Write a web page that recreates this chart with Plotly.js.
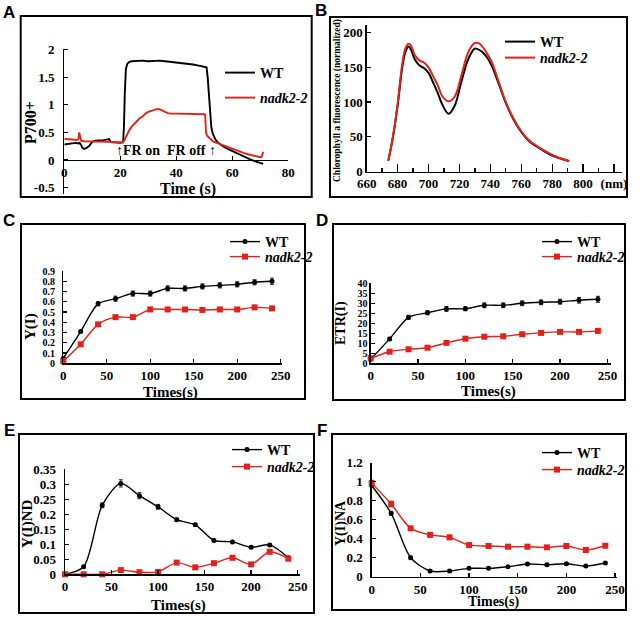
<!DOCTYPE html>
<html><head><meta charset="utf-8">
<script src="https://cdn.plot.ly/plotly-3.0.1.min.js"></script>
<style>html,body{margin:0;padding:0;background:#fff}</style>
</head><body><div id="chart" style="width:640px;height:620px"></div>
<script>
// ---------- Panel A : P700+ kinetics ----------
const aTimeWT = [0,1,2,3,4,5,5.5,6,6.5,7,8,9,10,11,12,13,14,15,16,16.5,17,18,19,20,21,21.3,21.6,22,22.5,23,24,26,28,30,32,34,36,38,40,42,44,46,48,50,50.8,51.2,51.6,52,52.5,53,54,55,56,58,60,62,64,66,68,70,71];
const aP700WT = [0.28,0.29,0.30,0.30,0.31,0.30,0.31,0.27,0.22,0.20,0.22,0.26,0.33,0.35,0.35,0.36,0.36,0.37,0.38,0.33,0.32,0.32,0.31,0.31,0.32,0.6,1.2,1.65,1.74,1.77,1.79,1.80,1.80,1.79,1.80,1.80,1.79,1.78,1.77,1.76,1.74,1.73,1.71,1.69,1.68,1.5,1.2,0.85,0.6,0.48,0.37,0.31,0.27,0.21,0.16,0.11,0.06,0.02,-0.02,-0.05,-0.07];
const aTimeNadk = [0,1,2,3,4,5,5.3,5.6,6,7,8,10,12,14,16,18,20,21,21.5,22,23,24,25,26,27,28,29,30,31,32,33,34,35,36,37,38,40,42,44,46,48,50,50.3,50.6,51,52,53,54,56,58,60,62,64,66,68,70,70.5,71];
const aP700Nadk = [0.38,0.38,0.37,0.37,0.36,0.37,0.50,0.40,0.35,0.34,0.34,0.34,0.33,0.33,0.33,0.32,0.32,0.32,0.36,0.42,0.52,0.60,0.66,0.72,0.76,0.79,0.84,0.87,0.89,0.90,0.92,0.92,0.89,0.87,0.85,0.84,0.84,0.84,0.83,0.84,0.83,0.83,0.82,0.50,0.44,0.38,0.34,0.32,0.28,0.24,0.20,0.16,0.13,0.10,0.07,0.05,0.06,0.15];
const aXTicks = [0,20,40,60,80];
const aYTicks = [-0.5,0,0.5,1,1.5,2];
const aYTickText = ['-0.5','0','0.5','1','1.5','2'];

// ---------- Panel B : 77K chlorophyll a fluorescence ----------
const bWavelength = [674,677,680,683,685,687,689,691,694,697,700,703,706,709,713,717,721,725,728,730,733,737,741,745,750,755,760,765,770,775,780,785,791];
const bFluoWT   = [16,50,95,150,172,180,174,162,153,149,142,128,113,96,83,95,127,158,172,177,175,167,152,129,99,75,57,44,36,29,23,19,15];
const bFluoNadk = [15,50,97,155,177,184,180,168,160,157,150,137,124,108,101,108,136,168,181,185,184,173,157,132,100,76,58,45,37,30,24,19,15];
const bXTicks = [660,680,700,720,740,760,780,800,820];
const bXTickText = ['660','680','700','720','740','760','780','800','(nm)'];
const bXMinor = [670,690,710,730,750,770,790,810];
const bYTicks = [0,50,100,150,200];

// ---------- Panels C-F : time courses ----------
const times = [0,20,40,60,80,100,120,140,160,180,200,220,240];
const timeTicks = [0,50,100,150,200,250];

const cYI_WT   = [0.05,0.31,0.58,0.63,0.68,0.68,0.73,0.73,0.75,0.76,0.77,0.79,0.80];
const cYI_Nadk = [0.02,0.185,0.38,0.45,0.45,0.525,0.525,0.525,0.52,0.525,0.525,0.545,0.535];
const cErrWT   = [0.01,0.01,0.02,0.025,0.025,0.025,0.025,0.025,0.025,0.025,0.025,0.025,0.03];
const cErrNadk = [0.01,0.01,0.015,0.015,0.015,0.02,0.015,0.015,0.015,0.015,0.015,0.02,0.02];
const cYTicks = [0,0.1,0.2,0.3,0.4,0.5,0.6,0.7,0.8,0.9];
const cYTickText = ['0','0.1','0.2','0.3','0.4','0.5','0.6','0.7','0.8','0.9'];

const dETR_WT   = [2.0,12.2,23.0,25.3,27.2,27.3,29.0,29.0,30.0,30.5,30.8,31.5,32.0];
const dETR_Nadk = [2.5,5.8,7.0,7.8,10.2,12.3,13.3,13.5,14.5,15.2,15.7,15.7,16.2];
const dErrWT    = [0.5,0.8,1.0,1.0,1.2,1.0,1.2,1.2,1.2,1.2,1.2,1.4,1.5];
const dErrNadk  = [0.5,0.5,0.5,0.5,0.6,0.6,0.6,0.6,0.6,0.6,0.6,0.6,0.6];
const dYTicks = [0,5,10,15,20,25,30,35,40];

const eND_WT   = [0.0,0.025,0.23,0.303,0.262,0.225,0.182,0.165,0.113,0.108,0.09,0.098,0.055];
const eND_Nadk = [0.0,0.0,0.0,0.014,0.007,0.008,0.039,0.023,0.037,0.055,0.033,0.075,0.052];
const eErrWT   = [0.002,0.003,0.008,0.012,0.01,0.008,0.006,0.005,0.004,0.003,0.004,0.004,0.004];
const eErrNadk = [0.002,0.002,0.002,0.002,0.002,0.002,0.003,0.002,0.002,0.003,0.002,0.003,0.003];
const eYTicks = [0,0.05,0.1,0.15,0.2,0.25,0.3,0.35];
const eYTickText = ['0','0.05','0.1','0.15','0.2','0.25','0.3','0.35'];

const fNA_WT   = [0.96,0.667,0.2,0.06,0.06,0.088,0.088,0.105,0.133,0.126,0.137,0.112,0.144];
const fNA_Nadk = [0.985,0.765,0.509,0.44,0.414,0.333,0.323,0.316,0.316,0.309,0.323,0.281,0.326];
const fErrWT   = [0.02,0.02,0.015,0.01,0.01,0.01,0.01,0.01,0.01,0.01,0.01,0.01,0.01];
const fErrNadk = [0.03,0.03,0.02,0.02,0.02,0.015,0.015,0.015,0.015,0.015,0.015,0.015,0.015];
const fYTicks = [0,0.2,0.4,0.6,0.8,1,1.2];
const fYTickText = ['0','0.2','0.4','0.6','0.8','1','1.2'];

const nameWT = 'WT';
const nameNadk = '<i>nadk2-2</i>';

// ---------- helpers ----------
const W = 640, H = 620;
const fx = p => p / W;
const fy = p => (H - p) / H;
const SERIF = 'Liberation Serif';
const SANS = 'Liberation Sans';
const RED = '#e3201b';
const BLACK = '#000000';

function ax(o, fs) {
  return Object.assign({
    showline: true, linecolor: BLACK, linewidth: 1.3, mirror: false,
    showgrid: false, zeroline: false,
    ticks: 'inside', ticklen: 4, tickwidth: 1.3, tickcolor: BLACK,
    tickfont: {family: SERIF, size: fs || 13, weight: 'bold', color: BLACK},
    fixedrange: true
  }, o);
}
function leg(textX, centerY) {
  return {x: fx(textX - 40), y: fy(centerY), xanchor: 'left', yanchor: 'middle',
    bgcolor: 'rgba(0,0,0,0)', borderwidth: 0, itemwidth: 30,
    font: {family: SERIF, size: 14, weight: 'bold', color: BLACK}};
}
function lineTrace(x, y, name, color, xa, ya, legendId, width, shape) {
  return {type: 'scatter', mode: 'lines', x: x, y: y, name: name, xaxis: xa, yaxis: ya,
    legend: legendId, line: {color: color, width: width, shape: shape || 'linear'}, cliponaxis: false};
}
function seriesTrace(x, y, err, name, isWT, xa, ya, legendId) {
  return {type: 'scatter', mode: 'lines+markers', x: x, y: y, name: name, xaxis: xa, yaxis: ya,
    legend: legendId, cliponaxis: false,
    line: {color: isWT ? BLACK : RED, width: 1.4, shape: 'spline', smoothing: 0.8},
    marker: {symbol: isWT ? 'circle' : 'square', size: isWT ? 5 : 6, color: isWT ? BLACK : RED},
    error_y: {type: 'data', array: err, visible: true, color: isWT ? '#222' : '#333', thickness: 1, width: 2}};
}

const data = [
  lineTrace(aTimeWT, aP700WT, nameWT, BLACK, 'x', 'y', 'legend', 1.9),
  lineTrace(aTimeNadk, aP700Nadk, nameNadk, RED, 'x', 'y', 'legend2', 1.9),
  lineTrace(bWavelength, bFluoWT, nameWT, BLACK, 'x2', 'y2', 'legend3', 2, 'spline'),
  lineTrace(bWavelength, bFluoNadk, nameNadk, RED, 'x2', 'y2', 'legend4', 2, 'spline'),
  seriesTrace(times, cYI_WT, cErrWT, nameWT, true, 'x3', 'y3', 'legend5'),
  seriesTrace(times, cYI_Nadk, cErrNadk, nameNadk, false, 'x3', 'y3', 'legend6'),
  seriesTrace(times, dETR_WT, dErrWT, nameWT, true, 'x4', 'y4', 'legend7'),
  seriesTrace(times, dETR_Nadk, dErrNadk, nameNadk, false, 'x4', 'y4', 'legend8'),
  seriesTrace(times, eND_WT, eErrWT, nameWT, true, 'x5', 'y5', 'legend9'),
  seriesTrace(times, eND_Nadk, eErrNadk, nameNadk, false, 'x5', 'y5', 'legend10'),
  seriesTrace(times, fNA_WT, fErrWT, nameWT, true, 'x6', 'y6', 'legend11'),
  seriesTrace(times, fNA_Nadk, fErrNadk, nameNadk, false, 'x6', 'y6', 'legend12')
];

function box(x0, y0, x1, y1) {
  return {type: 'rect', xref: 'paper', yref: 'paper', x0: fx(x0), x1: fx(x1), y0: fy(y1), y1: fy(y0),
    line: {color: BLACK, width: 2}, fillcolor: 'rgba(0,0,0,0)'};
}
function txt(text, x, y, size, opts) {
  return Object.assign({text: text, xref: 'paper', yref: 'paper', x: fx(x), y: fy(y),
    xanchor: 'center', yanchor: 'middle', showarrow: false,
    font: {family: SERIF, size: size, weight: 'bold', color: BLACK}}, opts || {});
}
function vtxt(text, x, y, size) { return txt(text, x, y, size, {textangle: -90}); }
function letter(t, x, y) {
  return txt(t, x, y, 17, {font: {family: SANS, size: 17, weight: 'bold', color: BLACK}});
}

const layout = {
  width: W, height: H, margin: {l: 0, r: 0, t: 0, b: 0},
  font: {family: SERIF, size: 13, weight: 'bold', color: BLACK},
  paper_bgcolor: '#ffffff', plot_bgcolor: 'rgba(0,0,0,0)',
  showlegend: true, hovermode: false,
  // A
  xaxis: ax({domain: [fx(64.3), fx(288.3)], range: [0, 80], anchor: 'free', position: fy(160),
    tickmode: 'array', tickvals: aXTicks}),
  yaxis: ax({domain: [fy(194.2), fy(48.5)], range: [-0.62, 2.02], anchor: 'x', ticklabelstandoff: 6,
    tickmode: 'array', tickvals: aYTicks, ticktext: aYTickText}),
  // B
  xaxis2: ax({domain: [fx(366.7), fx(621.7)], range: [660, 825], anchor: 'y2', ticklen: 8,
    tickmode: 'array', tickvals: bXTicks, ticktext: bXTickText,
    minor: {tickmode: 'array', tickvals: bXMinor, ticks: 'inside', ticklen: 4, tickwidth: 1.3, tickcolor: BLACK}}),
  yaxis2: ax({domain: [fy(171.5), fy(25)], range: [0, 211], anchor: 'x2',
    tickmode: 'array', tickvals: bYTicks}),
  // C
  xaxis3: ax({domain: [fx(63.3), fx(282.4)], range: [0, 252], anchor: 'y3', tickmode: 'array', tickvals: timeTicks}),
  yaxis3: ax({domain: [fy(363.3), fy(271)], range: [0, 0.9], anchor: 'x3', ticklabelstandoff: 5,
    tickmode: 'array', tickvals: cYTicks, ticktext: cYTickText}, 10),
  // D
  xaxis4: ax({domain: [fx(370.7), fx(610.7)], range: [0, 253.5], anchor: 'y4', tickmode: 'array', tickvals: timeTicks}),
  yaxis4: ax({domain: [fy(363.3), fy(283.3)], range: [0, 40], anchor: 'x4', tickmode: 'array', tickvals: dYTicks}, 10),
  // E
  xaxis5: ax({domain: [fx(65), fx(299.5)], range: [0, 252], anchor: 'y5', tickmode: 'array', tickvals: timeTicks}),
  yaxis5: ax({domain: [fy(574.3), fy(469.3)], range: [0, 0.35], anchor: 'x5', ticklabelstandoff: 5,
    tickmode: 'array', tickvals: eYTicks, ticktext: eYTickText}),
  // F
  xaxis6: ax({domain: [fx(371.7), fx(617)], range: [0, 252], anchor: 'y6', tickmode: 'array', tickvals: timeTicks}),
  yaxis6: ax({domain: [fy(576.7), fy(462.7)], range: [0, 1.2], anchor: 'x6', ticklabelstandoff: 5,
    tickmode: 'array', tickvals: fYTicks, ticktext: fYTickText}),
  legend: leg(260, 73), legend2: leg(260, 98),
  legend3: leg(540, 42), legend4: leg(540, 58),
  legend5: leg(265, 242), legend6: leg(265, 257),
  legend7: leg(577, 242), legend8: leg(577, 257),
  legend9: leg(267, 450), legend10: leg(267, 467),
  legend11: leg(577, 453), legend12: leg(577, 470),
  shapes: [
    box(20.7, 16, 311.7, 197),
    box(330, 17, 627, 197),
    box(21, 224, 305, 399),
    box(333, 224, 625, 400),
    box(19, 434, 314, 613),
    box(332, 434, 626, 610)
  ],
  annotations: [
    letter('A', 9, 12), letter('B', 321, 11), letter('C', 9, 220),
    letter('D', 322, 220), letter('E', 9, 430), letter('F', 322, 430),
    vtxt('P700+', 31, 123, 16), txt('Time (s)', 188, 189, 16),
    txt('\u2191FR on', 138, 150, 14), txt('FR off \u2191', 191, 150, 14),
    vtxt('Chlorophyll a fluorescence (normalized)', 337, 101, 9.5),
    vtxt('Y(I)', 31, 327, 15), txt('Times(s)', 170, 393, 15),
    vtxt('ETR(I)', 341, 323, 14), txt('Times(s)', 488, 391, 15),
    vtxt('Y(I)ND', 27, 524, 15), txt('Times(s)', 178, 605, 15),
    vtxt('Y(I)NA', 341, 523, 14), txt('Times(s)', 493, 602, 14)
  ]
};

Plotly.newPlot('chart', data, layout, {displayModeBar: false, staticPlot: true});
</script></body></html>
